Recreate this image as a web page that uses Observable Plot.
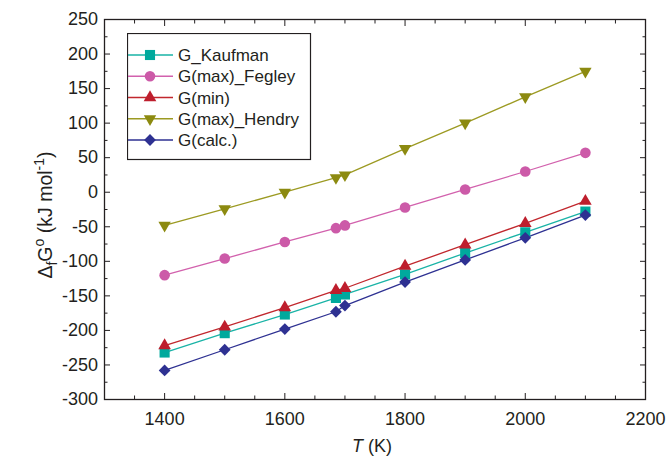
<!DOCTYPE html>
<html><head><meta charset="utf-8">
<script src="https://cdn.jsdelivr.net/npm/d3@7"></script>
<script src="https://cdn.jsdelivr.net/npm/@observablehq/plot@0.6"></script>
<style>
body{margin:0;background:#fff;}
#wrap{position:relative;width:666px;height:458px;font-family:"Liberation Sans",Arial,sans-serif;}
#legend{position:absolute;left:127px;top:33px;}
</style></head><body><div id="wrap"></div>
<script>
const temps = [1400,1500,1600,1685,1700,1800,1900,2000,2100];
const seriesNames = ["G_Kaufman","G(max)_Fegley","G(min)","G(max)_Hendry","G(calc.)"];
const gKaufman = [-232,-204,-177,-153,-148,-119,-88,-58,-28];
const gFegley  = [-120,-96,-72,-52,-48,-22,4,30,57];
const gMin     = [-222,-195,-167,-142,-139,-107,-76,-45,-13];
const gHendry  = [-48,-24,0,21,25,63,100,138,175];
const gCalc    = [-258,-228,-198,-173,-164,-130,-98,-66,-33];
const lineColors   = ["#19b3a6","#d261ad","#c1272d","#9c9a22","#2e3192"];
const markerColors = ["#00a99d","#cc5aa8","#be1e2d","#8c8a10","#2e3192"];
const symbols  = ["square","circle","triangle","triangle","diamond2"];
const rotations = [0,0,0,180,0];
const radii = [5.7,5.3,4.7,4.6,5.3];
const xTicks = [1400,1600,1800,2000,2200];
const xMinor = [1300,1350,1450,1500,1550,1650,1700,1750,1850,1900,1950,2050,2100,2150];
const yTicks = [-300,-250,-200,-150,-100,-50,0,50,100,150,200,250];
const yMinor = [-275,-225,-175,-125,-75,-25,25,75,125,175,225];

const allSeries = [gKaufman,gFegley,gMin,gHendry,gCalc];
const rows = [];
allSeries.forEach((vals,si)=>vals.forEach((v,i)=>rows.push({series:seriesNames[si], si, T:temps[i], G:v})));

const ink = "#231f20";
const marks = [];
seriesNames.forEach((name,si)=>{
  const d = rows.filter(r=>r.si===si);
  marks.push(Plot.line(d,{x:"T",y:"G",stroke:lineColors[si],strokeWidth:1.3}));
});
seriesNames.forEach((name,si)=>{
  const d = rows.filter(r=>r.si===si);
  marks.push(Plot.dot(d,{x:"T",y:"G",symbol:symbols[si],r:radii[si],rotate:rotations[si],fill:markerColors[si],stroke:"none"}));
});
const noText = ()=>"";
const plain = d => String(d);
marks.push(
  Plot.axisX(xTicks,{anchor:"bottom",tickSize:-6,tickPadding:19,fontSize:18,tickFormat:plain,fill:ink,stroke:ink,label:null}),
  Plot.axisX(xMinor,{anchor:"bottom",tickSize:-3.5,tickFormat:noText,label:null,stroke:ink}),
  Plot.axisX(xTicks,{anchor:"top",tickSize:-6,tickFormat:noText,label:null,stroke:ink}),
  Plot.axisX(xMinor,{anchor:"top",tickSize:-3.5,tickFormat:noText,label:null,stroke:ink}),
  Plot.axisY(yTicks,{anchor:"left",tickSize:-6,tickPadding:12.5,fontSize:18,tickFormat:plain,fill:ink,stroke:ink,label:null}),
  Plot.axisY(yMinor,{anchor:"left",tickSize:-3.5,tickFormat:noText,label:null,stroke:ink}),
  Plot.axisY(yTicks,{anchor:"right",tickSize:-6,tickFormat:noText,label:null,stroke:ink}),
  Plot.axisY(yMinor,{anchor:"right",tickSize:-3.5,tickFormat:noText,label:null,stroke:ink}),
  Plot.frame({stroke:ink,strokeWidth:1.3})
);

const chart = Plot.plot({
  width:666, height:458,
  marginLeft:104, marginRight:21, marginTop:19, marginBottom:59,
  x:{domain:[1300,2200]},
  y:{domain:[-300,250]},
  style:{fontFamily:"'Liberation Sans', Arial, sans-serif", fontSize:"18px", color:ink, background:"#fff", overflow:"visible"},
  marks
});
document.getElementById("wrap").appendChild(chart);

// axis titles
const svg = d3.select(chart);
const xt = svg.append("text").attr("x",372).attr("y",452).attr("text-anchor","middle")
  .attr("font-size",18).attr("fill",ink);
xt.append("tspan").attr("font-style","italic").text("T");
xt.append("tspan").text(" (K)");

const yt = svg.append("text").attr("transform","translate(52,215) rotate(-90)").attr("text-anchor","middle")
  .attr("font-size",19.5).attr("fill",ink);
yt.append("tspan").text("Δ");
yt.append("tspan").attr("font-size",14).attr("dy",5).text("f");
yt.append("tspan").attr("dy",-5).text("G");
yt.append("tspan").attr("font-size",14).attr("dy",-8).text("o");
yt.append("tspan").attr("dy",8).text(" (kJ mol");
yt.append("tspan").attr("font-size",14).attr("dy",-8).text("-1");
yt.append("tspan").attr("dy",8).text(")");

// legend
const lg = d3.select("#wrap").append("svg").attr("id","legend").attr("width",185).attr("height",128);
lg.append("rect").attr("x",0.5).attr("y",0.5).attr("width",183).attr("height",126).attr("fill","#fff").attr("stroke",ink).attr("stroke-width",1.2);
seriesNames.forEach((name,si)=>{
  const yy = 22 + si*21.25;
  lg.append("line").attr("x1",1).attr("x2",46).attr("y1",yy).attr("y2",yy).attr("stroke",lineColors[si]).attr("stroke-width",1.3);
  const sym = {square:d3.symbolSquare,circle:d3.symbolCircle,triangle:d3.symbolTriangle,diamond2:d3.symbolDiamond2}[symbols[si]];
  lg.append("path").attr("d",d3.symbol(sym, radii[si]*radii[si]*Math.PI)())
    .attr("transform",`translate(23,${yy}) rotate(${rotations[si]})`).attr("fill",markerColors[si]);
  lg.append("text").attr("x",51).attr("y",yy).attr("dy","0.36em").attr("font-size",17).attr("fill",ink)
    .attr("font-family","'Liberation Sans', Arial, sans-serif").text(name);
});
</script></body></html>
